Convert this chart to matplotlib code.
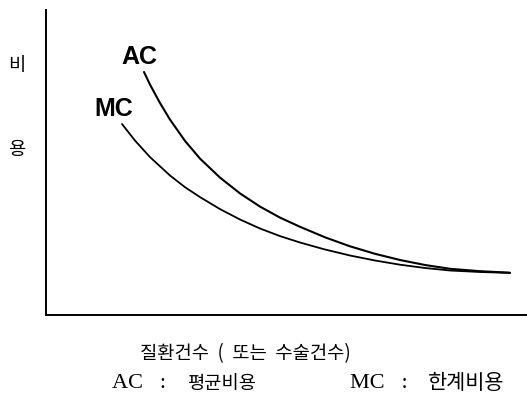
import matplotlib
matplotlib.use('Agg')
import matplotlib.pyplot as plt

# (x: number of cases, y: cost, arbitrary units)
ac_cases = [98, 104, 114, 124, 139, 154, 174, 194, 214, 234, 254, 279, 304, 329, 354, 379, 404, 434, 464]
ac_cost = [243, 230.4, 212, 195.4, 174.1, 156.4, 137.4, 121.6, 108.4, 97.4, 88.2, 77.7,
           68.7, 61.2, 55, 50, 46.2, 43.8, 42.3]
mc_cases = [76, 89, 104, 124, 139, 154, 174, 194, 214, 234, 254, 279, 304, 329, 354, 379, 404, 434, 464]
mc_cost = [191, 174.4, 157.9, 139.5, 127.8, 117.9, 105.9, 95.5, 86.5, 78.9, 72.5, 65.5,
           59.5, 54.5, 50.3, 47, 44.5, 43, 42.1]

y_label = ['비', '용']
x_label = '질환건수  (  또는  수술건수)'
legend_abbr = ['AC   :', 'MC   :']
legend_kr = ['평균비용', '한계비용']

W, H = 527, 416
fig = plt.figure(figsize=(W / 100, H / 100), dpi=100)
ax = fig.add_axes([46 / W, (H - 315) / H, (W - 46) / W, (315 - 10) / H])

ax.plot(ac_cases, ac_cost, color='black', lw=1.5, solid_capstyle='round')
ax.plot(mc_cases, mc_cost, color='black', lw=1.3, solid_capstyle='round')
ax.set_xlim(0, W - 46)
ax.set_ylim(0, 305)

for s in ['top', 'right']:
    ax.spines[s].set_visible(False)
for s in ['left', 'bottom']:
    ax.spines[s].set_linewidth(1.4)
ax.set_xticks([])
ax.set_yticks([])

# curve labels
ax.text(ac_cases[0] - 5, ac_cost[0] + 15, 'AC', fontsize=18, fontweight='bold',
        family='Liberation Sans', ha='center', va='center')
ax.text(mc_cases[0] - 8, mc_cost[0] + 15, 'MC', fontsize=18, fontweight='bold',
        family='Liberation Sans', ha='center', va='center')

def px(x, y):
    return x / W, 1 - y / H

kr = ['Noto Sans CJK KR', 'DejaVu Sans']
fig.text(*px(17, 66), y_label[0], fontsize=13.5, family=kr, ha='center', va='center')
fig.text(*px(17, 150), y_label[1], fontsize=13.5, family=kr, ha='center', va='center')
fig.text(*px(245, 354), x_label, fontsize=13.5, family=kr, ha='center', va='center')

# legend line under the x label
fig.text(*px(112, 384), legend_abbr[0], fontsize=16, family='Liberation Serif', ha='left', va='center')
fig.text(*px(187, 383), legend_kr[0], fontsize=13.5, family=kr, ha='left', va='center')
fig.text(*px(350, 384), legend_abbr[1], fontsize=16, family='Liberation Serif', ha='left', va='center')
fig.text(*px(428, 383), legend_kr[1], fontsize=15, family=kr, ha='left', va='center')

fig.savefig('out.png', dpi=100)
